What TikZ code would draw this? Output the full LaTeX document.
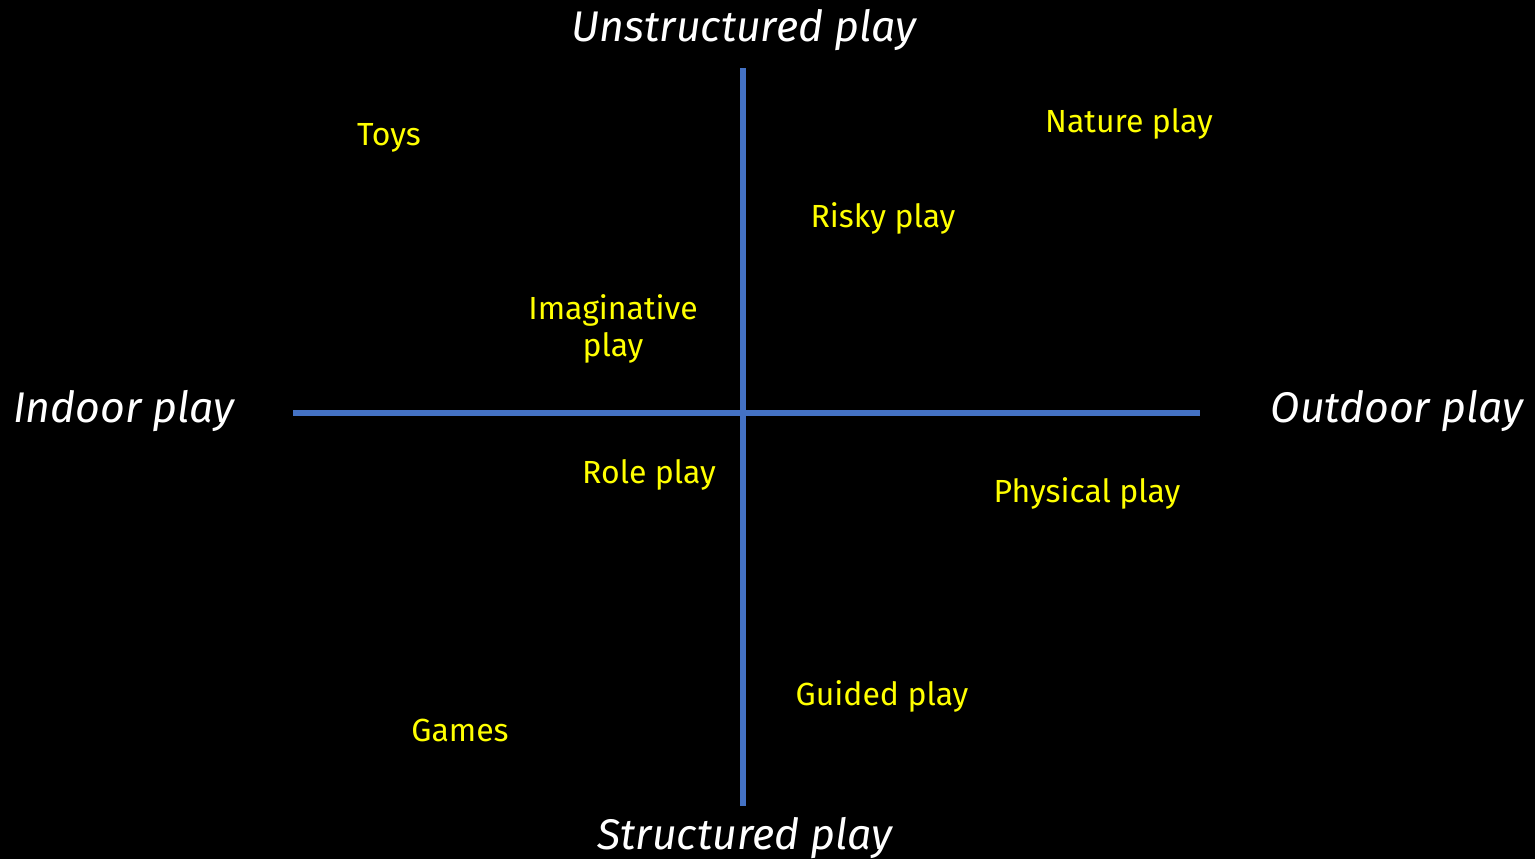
\documentclass[tikz,border=0pt]{standalone}
\usepackage{fontspec}
\setmainfont{Fira Sans}
\usetikzlibrary{positioning}
\definecolor{axiscolor}{RGB}{68,114,196}
\definecolor{labelcolor}{RGB}{255,255,0}

\begin{document}
\begin{tikzpicture}[
        axislabel/.style={text=white,font=\fontsize{12.2}{14}\selectfont\itshape},
        playlabel/.style={text=labelcolor,font=\fontsize{9.1}{10.6}\selectfont,align=center},
        axisline/.style={axiscolor,line width=1.5pt}
    ]
        % background
        \fill[black] (0,0) rectangle (15.35,8.59);
        \useasboundingbox (0,0) rectangle (15.35,8.59);

        % axes
        \coordinate (top) at (7.43,7.91);
        \coordinate (bottom) at (7.43,0.53);
        \coordinate (left) at (2.93,4.46);
        \coordinate (right) at (12.00,4.46);
        \draw[axisline] (top) -- (bottom);
        \draw[axisline] (left) -- (right);

        % axis labels
        \node[axislabel] (unstructured) at (7.44,8.29) {Unstructured play};
        \node[axislabel] (structured) at (7.45,0.21) {Structured play};
        \node[axislabel] (indoor) at (1.24,4.48) {Indoor play};
        \node[axislabel] (outdoor) at (13.97,4.48) {Outdoor play};

        % kinds of play
        \node[playlabel] (toys) at (3.89,7.21) {Toys};
        \node[playlabel] (nature) at (11.29,7.35) {Nature play};
        \node[playlabel] (risky) at (8.83,6.41) {Risky play};
        \node[playlabel] (imaginative) at (6.13,5.30) {Imaginative\\play};
        \node[playlabel] (role) at (6.49,3.84) {Role play};
        \node[playlabel] (physical) at (10.87,3.66) {Physical play};
        \node[playlabel] (guided) at (8.82,1.63) {Guided play};
        \node[playlabel] (games) at (4.60,1.29) {Games};
\end{tikzpicture}
\end{document}
